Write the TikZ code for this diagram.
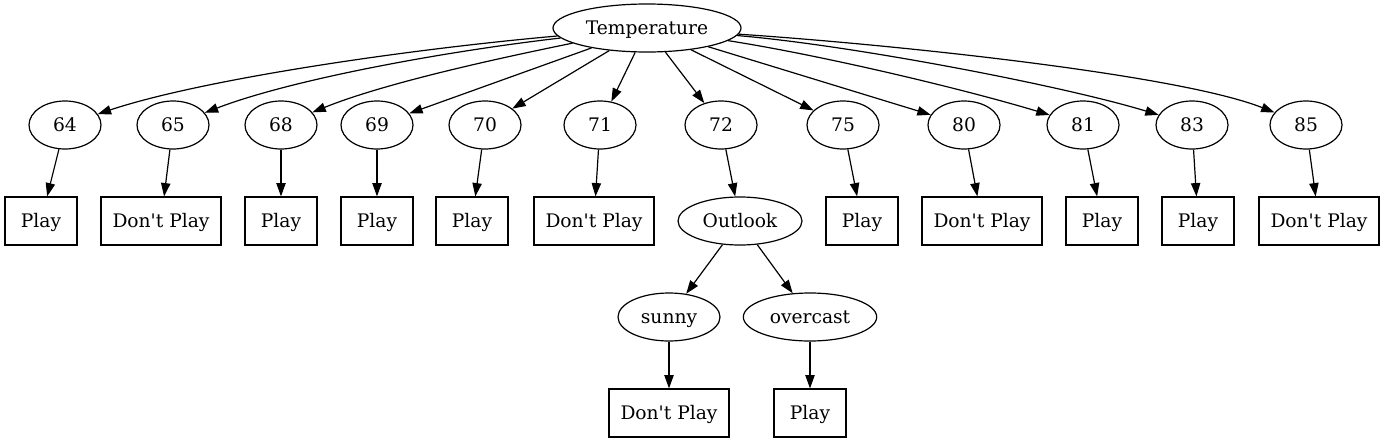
\documentclass[tikz,border=0pt]{standalone}
\usepackage{fontspec}
\setmainfont{DejaVu Serif}
\usetikzlibrary{shapes.geometric,arrows.meta}
\newcommand{\dontplay}{Don\textquotesingle t Play}
\begin{document}
\begin{tikzpicture}[x=0.75pt,y=-0.75pt,
  base/.style={draw, line width=0.9pt, inner sep=0pt, text height=10pt, text depth=1pt, font=\fontsize{14pt}{16pt}\selectfont},
  ell/.style={base, ellipse, minimum width=54pt, minimum height=36pt},
  box/.style={base, rectangle, minimum width=54pt, minimum height=36pt},
  wide/.style={minimum width=90pt},
  edge/.style={-{Triangle[length=10pt,width=7pt]}, line width=0.9pt}]
\useasboundingbox (0,0) rectangle (1384,443);
% root
\node[ell, minimum width=141pt] (T) at (647,28) {Temperature};
% row 2
\node[ell] (n64) at (65,125) {64};
\node[ell] (n65) at (173,125) {65};
\node[ell] (n68) at (281,125) {68};
\node[ell] (n69) at (377,125) {69};
\node[ell] (n70) at (485,125) {70};
\node[ell] (n71) at (600,125) {71};
\node[ell] (n72) at (721,125) {72};
\node[ell] (n75) at (843,125) {75};
\node[ell] (n80) at (964,125) {80};
\node[ell] (n81) at (1083,125) {81};
\node[ell] (n83) at (1192,125) {83};
\node[ell] (n85) at (1306,125) {85};
% row 3
\node[box] (b64) at (41,221) {Play};
\node[box, wide] (b65) at (161,221) {\dontplay};
\node[box] (b68) at (281,221) {Play};
\node[box] (b69) at (377,221) {Play};
\node[box] (b70) at (472,221) {Play};
\node[box, wide] (b71) at (594,221) {\dontplay};
\node[ell, minimum width=93pt] (O) at (740,221) {Outlook};
\node[box] (b75) at (862,221) {Play};
\node[box, wide] (b80) at (982,221) {\dontplay};
\node[box] (b81) at (1102,221) {Play};
\node[box] (b83) at (1198,221) {Play};
\node[box, wide] (b85) at (1319,221) {\dontplay};
% row 4
\node[ell, minimum width=76.5pt] (S) at (669,317) {sunny};
\node[ell, minimum width=100pt] (OC) at (810,317) {overcast};
% row 5
\node[box, wide] (bS) at (669,413) {\dontplay};
\node[box] (bO) at (810,413) {Play};
% edges from root
\draw[edge] (T) .. controls (400,50) and (200,80) .. (n64);
\draw[edge] (T) .. controls (440,52) and (290,80) .. (n65);
\draw[edge] (T) .. controls (480,62) and (380,85) .. (n68);
\draw[edge] (T) -- (n69);
\draw[edge] (T) -- (n70);
\draw[edge] (T) -- (n71);
\draw[edge] (T) -- (n72);
\draw[edge] (T) -- (n75);
\draw[edge] (T) -- (n80);
\draw[edge] (T) .. controls (820,55) and (960,88) .. (n81);
\draw[edge] (T) .. controls (850,45) and (1060,85) .. (n83);
\draw[edge] (T) .. controls (900,45) and (1180,75) .. (n85);
% row 2 -> row 3
\draw[edge] (n64) -- (b64);
\draw[edge] (n65) -- (b65);
\draw[edge] (n68) -- (b68);
\draw[edge] (n69) -- (b69);
\draw[edge] (n70) -- (b70);
\draw[edge] (n71) -- (b71);
\draw[edge] (n72) -- (O);
\draw[edge] (n75) -- (b75);
\draw[edge] (n80) -- (b80);
\draw[edge] (n81) -- (b81);
\draw[edge] (n83) -- (b83);
\draw[edge] (n85) -- (b85);
% outlook subtree
\draw[edge] (O) -- (S);
\draw[edge] (O) -- (OC);
\draw[edge] (S) -- (bS);
\draw[edge] (OC) -- (bO);
\end{tikzpicture}
\end{document}
